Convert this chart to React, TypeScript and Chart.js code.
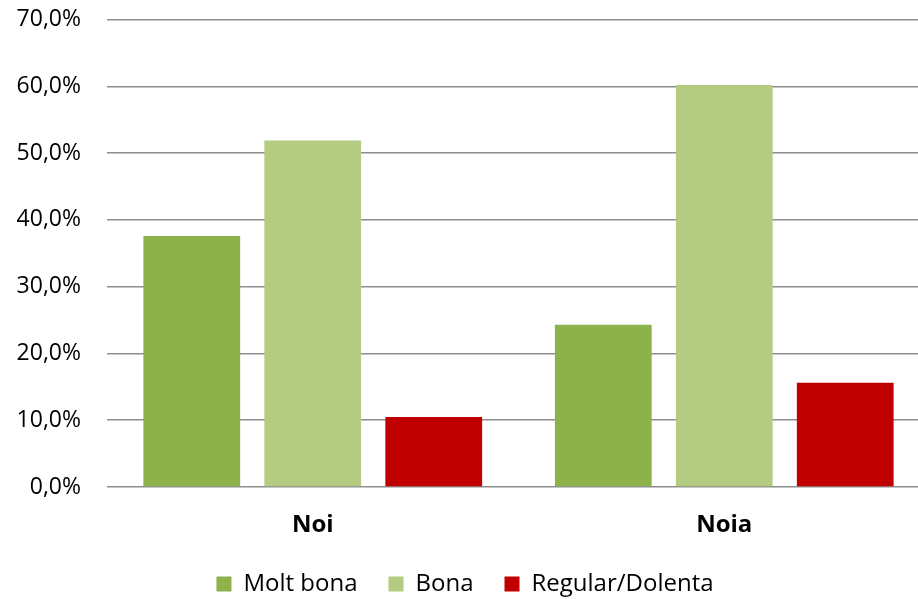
import React, { useEffect, useRef } from "react";
import { Chart, registerables } from "chart.js";

Chart.register(...registerables);

const categories = ["Noi", "Noia"];
const seriesNames = ["Molt bona", "Bona", "Regular/Dolenta"];
const moltBona = [37.6, 24.3];
const bona = [51.9, 60.2];
const regularDolenta = [10.5, 15.6];
const seriesColors = ["#8DB14B", "#B3CC82", "#C00000"];
const yMin = 0;
const yMax = 70;
const yStep = 10;

const FONT = "'Open Sans', 'DejaVu Sans', sans-serif";

export default function App() {
  const ref = useRef<HTMLCanvasElement | null>(null);

  useEffect(() => {
    document.body.style.overflow = "hidden";
    const canvas = ref.current;
    if (!canvas) return;
    const values = [moltBona, bona, regularDolenta];
    const chart = new Chart(canvas, {
      type: "bar",
      data: {
        labels: categories,
        datasets: seriesNames.map((name, i) => ({
          label: name,
          data: values[i],
          backgroundColor: seriesColors[i],
          borderWidth: 0,
          categoryPercentage: 0.882,
          barPercentage: 0.8,
        })),
      },
      options: {
        responsive: false,
        animation: false,
        layout: { padding: { top: 19.5, left: 0, right: 0, bottom: -7 } },
        plugins: {
          tooltip: { enabled: false },
          legend: {
            position: "bottom",
            labels: {
              font: { family: FONT, size: 24 },
              color: "#000",
              boxWidth: 15,
              boxHeight: 15,
              padding: 31,
            },
          },
        },
        scales: {
          x: {
            grid: { display: false, drawTicks: false },
            border: { display: false },
            ticks: {
              font: { family: FONT, size: 24, weight: "bold" },
              color: "#000",
              padding: 24,
            },
            afterFit: (scale: any) => {
              scale.height = 54;
            },
          },
          y: {
            min: yMin,
            max: yMax,
            grid: { color: "#8e8e8e", lineWidth: 1.5, drawTicks: false },
            border: { display: false },
            ticks: {
              stepSize: yStep,
              padding: 26,
              font: { family: FONT, size: 23 },
              color: "#000",
              callback: (v: any) => Number(v).toFixed(1).replace(".", ",") + "%",
            },
            afterFit: (scale: any) => {
              scale.width = 107;
              scale.paddingTop = 0;
              scale.paddingBottom = 0;
            },
          },
        },
      },
    });
    return () => chart.destroy();
  }, []);

  return (
    <div style={{ position: "fixed", left: 0, top: 0, width: 930, height: 599, overflow: "hidden" }}>
      <canvas ref={ref} width={930} height={599} style={{ width: 930, height: 599 }} />
    </div>
  );
}
